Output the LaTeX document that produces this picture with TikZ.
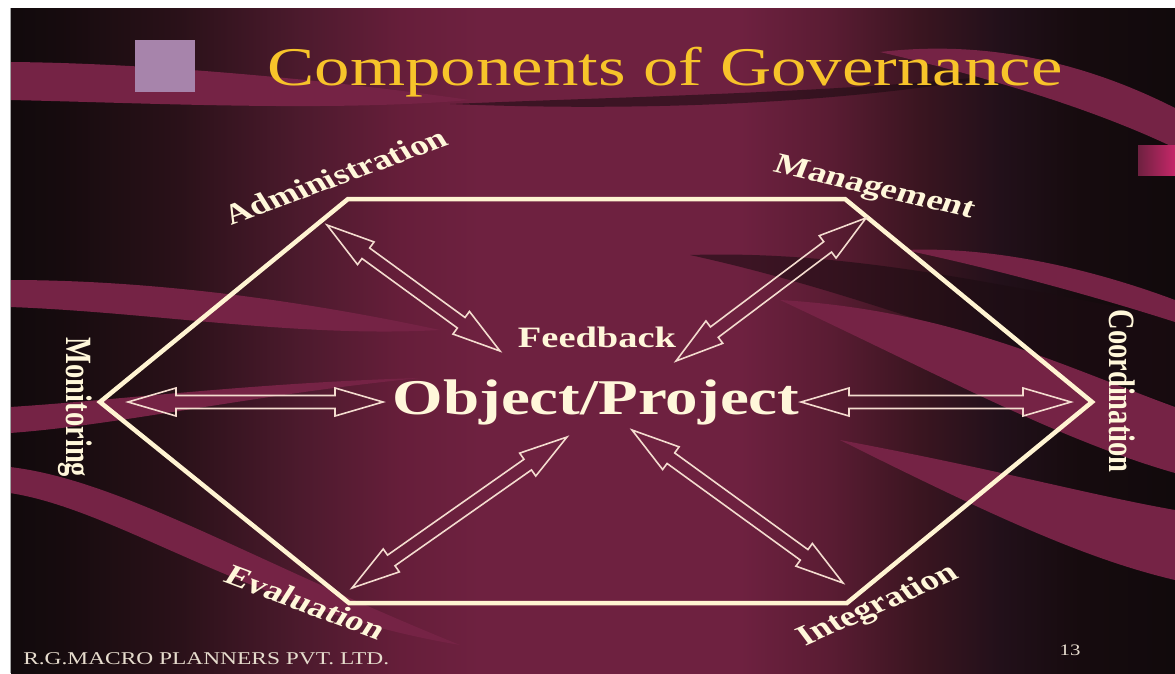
\documentclass[tikz,border=0pt]{standalone}
\usepackage{fontspec}
\setmainfont{Liberation Serif}
\usetikzlibrary{calc}

\definecolor{cream}{HTML}{FFF7DA}
\definecolor{hexc}{HTML}{FFF4D2}
\definecolor{arrc}{HTML}{F4DCCF}
\definecolor{gold}{HTML}{F7C42A}
\definecolor{lilac}{HTML}{A784AB}
\definecolor{bandc}{HTML}{752345}
\definecolor{shadowc}{HTML}{1C0C12}
\definecolor{magc}{HTML}{C62769}
\definecolor{mar}{HTML}{6E2140}
\definecolor{greytxt}{HTML}{E6DCCD}
\definecolor{bgA}{HTML}{110A0C}
\definecolor{bgB}{HTML}{160B0E}
\definecolor{bgC}{HTML}{2A1119}
\definecolor{bgD}{HTML}{4C1A2D}
\definecolor{bgE}{HTML}{661E3A}
\definecolor{bgF}{HTML}{5A1C33}
\definecolor{bgG}{HTML}{3A1520}
\definecolor{bgH}{HTML}{22101A}

\pgfdeclarehorizontalshading{bgshade}{665pt}{color(0pt)=(bgA); color(50pt)=(bgB); color(170pt)=(bgC); color(290pt)=(bgD); color(390pt)=(bgE); color(470pt)=(mar); color(730pt)=(mar); color(820pt)=(bgF); color(910pt)=(bgG); color(990pt)=(bgH); color(1070pt)=(bgB); color(1165pt)=(bgA)}

\newcommand\ahl{48pt}
\newcommand\ahw{14pt}
\newcommand\asw{6.5pt}
\newcommand\dblarrow[2]{%
  \draw[arrline] let \p1=(#1), \p2=(#2), \n1={atan2(\y2-\y1,\x2-\x1)} in
    (\p1) -- ($(\p1)+(\n1:\ahl)+(\n1+90:\ahw)$) -- ($(\p1)+(\n1:\ahl)+(\n1+90:\asw)$)
    -- ($(\p2)+(\n1+180:\ahl)+(\n1+90:\asw)$) -- ($(\p2)+(\n1+180:\ahl)+(\n1+90:\ahw)$)
    -- (\p2)
    -- ($(\p2)+(\n1+180:\ahl)+(\n1-90:\ahw)$) -- ($(\p2)+(\n1+180:\ahl)+(\n1-90:\asw)$)
    -- ($(\p1)+(\n1:\ahl)+(\n1-90:\asw)$) -- ($(\p1)+(\n1:\ahl)+(\n1-90:\ahw)$) -- cycle;}

\tikzset{
  arrline/.style={draw=arrc, line width=1.6pt, line join=miter},
  hexline/.style={draw=hexc, line width=4.5pt, line join=miter},
  band/.style={fill=bandc},
  shadowband/.style={fill=shadowc, fill opacity=0.6},
  lbl/.style={text=cream, font=\fontsize{28.5}{30}\selectfont\bfseries, inner sep=0pt, outer sep=0pt, anchor=base, xscale=1.3},
}

\begin{document}
\begin{tikzpicture}[x=1pt,y=-1pt]
\useasboundingbox (0,0) rectangle (1175,673);
\fill[white] (0,0) rectangle (1175,673);
\node[inner sep=0pt, outer sep=0pt, anchor=north west] (bg) at (10,8) {\pgfuseshading{bgshade}};

\begin{scope}
  \clip (10,8) rectangle (1175,673);
  % top ribbons
  \fill[band] (10,62) .. controls (150,63) and (330,80) .. (470,100) .. controls (330,112) and (150,103) .. (10,100) -- cycle;
  \fill[shadowband] (450,104) .. controls (650,96) and (850,92) .. (1010,74) .. controls (850,103) and (650,112) .. (450,104) -- cycle;
  \fill[band] (880,52) .. controls (1000,38) and (1100,70) .. (1175,108) -- (1175,148) .. controls (1100,112) and (1000,80) .. (880,52) -- cycle;
  % left ribbons
  \fill[band] (10,280) .. controls (150,280) and (300,300) .. (440,330) .. controls (300,338) and (150,312) .. (10,307) -- cycle;
  \fill[band] (10,407) .. controls (120,400) and (250,383) .. (420,378) .. controls (250,395) and (120,425) .. (10,433) -- cycle;
  \fill[band] (10,467) .. controls (120,480) and (250,560) .. (460,645) .. controls (250,610) and (120,510) .. (10,493) -- cycle;
  % right ribbons
  \fill[shadowband] (690,255) .. controls (850,250) and (1000,285) .. (1175,318) -- (1175,405) .. controls (1000,350) and (850,290) .. (690,255) -- cycle;
  \fill[band] (905,250) .. controls (1000,246) and (1100,272) .. (1175,300) -- (1175,322) .. controls (1100,298) and (1000,270) .. (905,250) -- cycle;
  \fill[band] (780,300) .. controls (950,310) and (1060,365) .. (1175,407) -- (1175,473) .. controls (1060,440) and (950,380) .. (780,300) -- cycle;
  \fill[band] (840,440) .. controls (1000,470) and (1090,495) .. (1175,510) -- (1175,580) .. controls (1090,560) and (1000,520) .. (840,440) -- cycle;
  \shade[left color=mar, right color=magc] (1138,145) rectangle (1175,175);
\end{scope}
\draw[gray!70, line width=1pt] (10.5,8) -- (10.5,673);

% decorative square
\fill[lilac] (135,40) rectangle (195,92);

% title
\node[text=gold, font=\fontsize{54.5}{56}\selectfont, inner sep=0pt, anchor=base, xscale=1.3] (title) at (665,85) {Components of Governance};

% hexagon
\coordinate (hTL) at (348,199);
\coordinate (hTR) at (845,199);
\coordinate (hR) at (1092,402);
\coordinate (hBR) at (847,603);
\coordinate (hBL) at (349,603);
\coordinate (hL) at (100,402);
\draw[hexline] (hTL) -- (hTR) -- (hR) -- (hBR) -- (hBL) -- (hL) -- cycle;

% labels
\node[lbl, rotate=25.7] (adm) at (341,185) {Administration};
\node[lbl, rotate=-16.8] (mgm) at (872,195) {Management};
\node[lbl, rotate=-90] (mon) at (66,407.5) {Monitoring};
\node[lbl, rotate=-90] (coo) at (1109,391) {Coordination};
\node[lbl, rotate=-26] (eva) at (300,611) {Evaluation};
\node[lbl, rotate=30] (int) at (883,612) {Integration};
\node[lbl, font=\fontsize{29.6}{31}\selectfont\bfseries] (fb) at (597,347) {Feedback};
\node[lbl, font=\fontsize{50}{52}\selectfont\bfseries] (obj) at (596,414) {Object/Project};

% footer
\node[text=greytxt, font=\fontsize{18}{20}\selectfont, inner sep=0pt, anchor=base west, xscale=1.3] (firm) at (23,664) {R.G.MACRO PLANNERS PVT. LTD.};
\node[text=greytxt, font=\fontsize{16}{18}\selectfont, inner sep=0pt, anchor=base, xscale=1.3] (pg) at (1070,655) {13};

% arrow end points
\coordinate (aA1) at (327,225);  \coordinate (aA2) at (500,351);
\coordinate (aM1) at (866,218);  \coordinate (aM2) at (676,361);
\coordinate (aL1) at (128,402);  \coordinate (aL2) at (383,402);
\coordinate (aR1) at (801,402);  \coordinate (aR2) at (1071,402);
\coordinate (aE1) at (352,588);  \coordinate (aE2) at (567,437);
\coordinate (aI1) at (632,430);  \coordinate (aI2) at (843,583);

\dblarrow{aA1}{aA2}
\dblarrow{aM1}{aM2}
\dblarrow{aL1}{aL2}
\dblarrow{aR1}{aR2}
\dblarrow{aE1}{aE2}
\dblarrow{aI1}{aI2}
\end{tikzpicture}
\end{document}
